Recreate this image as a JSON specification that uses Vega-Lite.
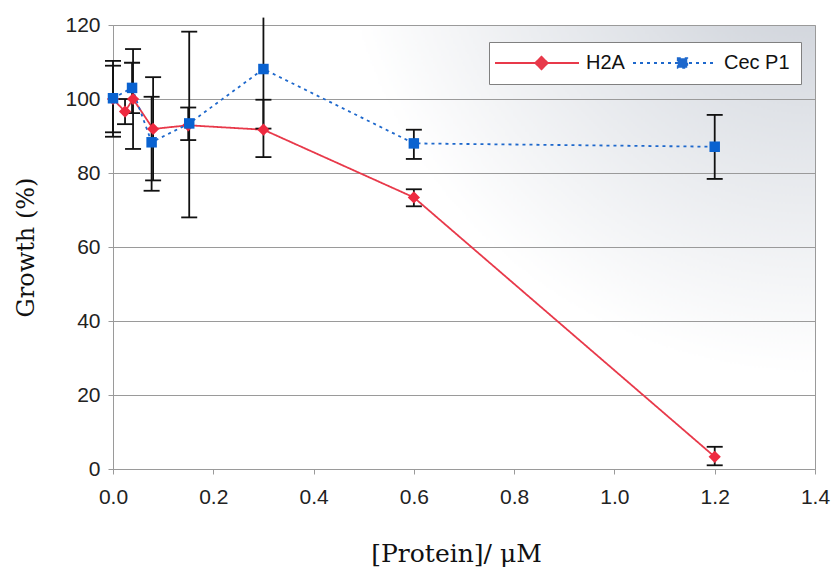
{
  "$schema": "https://vega.github.io/schema/vega-lite/v6.json",
  "width": 702,
  "height": 444,
  "autosize": {"type": "none"},
  "padding": {"left": 113, "top": 25, "right": 20, "bottom": 105},
  "background": "white",
  "config": {
    "view": {
      "stroke": "#9a9a9a",
      "strokeWidth": 1,
      "fill": {
        "gradient": "radial",
        "x1": 1, "y1": 0, "r1": 0,
        "x2": 1, "y2": 0, "r2": 0.68,
        "stops": [
          {"offset": 0, "color": "#c0c5ce"},
          {"offset": 0.45, "color": "#dfe2e7"},
          {"offset": 1, "color": "#ffffff"}
        ]
      }
    },
    "axis": {
      "labelFont": "Liberation Sans",
      "labelFontSize": 21,
      "labelColor": "#222222",
      "labelFlush": false,
      "titleFont": "DejaVu Serif",
      "titleFontWeight": "normal",
      "titleColor": "#111111",
      "domainColor": "#9a9a9a",
      "tickColor": "#9a9a9a",
      "tickSize": 5
    }
  },
  "data": {
    "values": [
      {"series": "H2A", "conc": 0, "growth": 100, "lo": 91, "hi": 109},
      {"series": "H2A", "conc": 0.024, "growth": 96.6, "lo": 93.2, "hi": 100},
      {"series": "H2A", "conc": 0.04, "growth": 100, "lo": 86.5, "hi": 113.5},
      {"series": "H2A", "conc": 0.08, "growth": 91.9, "lo": 78, "hi": 105.9},
      {"series": "H2A", "conc": 0.15, "growth": 92.9, "lo": 88.9, "hi": 97.7},
      {"series": "H2A", "conc": 0.3, "growth": 91.7, "lo": 84.3, "hi": 99.8},
      {"series": "H2A", "conc": 0.6, "growth": 73.4, "lo": 71, "hi": 75.6},
      {"series": "H2A", "conc": 1.2, "growth": 3.3, "lo": 1, "hi": 6},
      {"series": "Cec P1", "conc": 0, "growth": 100.2, "lo": 89.8, "hi": 110.3},
      {"series": "Cec P1", "conc": 0.038, "growth": 103, "lo": 96.2, "hi": 109.8},
      {"series": "Cec P1", "conc": 0.077, "growth": 88.3, "lo": 75.2, "hi": 100.6},
      {"series": "Cec P1", "conc": 0.152, "growth": 93.4, "lo": 68, "hi": 118.2},
      {"series": "Cec P1", "conc": 0.3, "growth": 108.1, "lo": 92, "hi": 122},
      {"series": "Cec P1", "conc": 0.6, "growth": 88, "lo": 83.8, "hi": 91.7},
      {"series": "Cec P1", "conc": 1.2, "growth": 87.1, "lo": 78.4, "hi": 95.7}
    ]
  },
  "encoding": {
    "x": {
      "field": "conc",
      "type": "quantitative",
      "scale": {"domain": [0, 1.4], "nice": false, "zero": false, "padding": 0},
      "axis": {
        "values": [0, 0.2, 0.4, 0.6, 0.8, 1.0, 1.2, 1.4],
        "format": ".1f",
        "grid": false,
        "labelPadding": 12,
        "title": "[Protein]/ μM",
        "titleFontSize": 25,
        "titlePadding": 34,
        "titleX": 343
      }
    }
  },
  "layer": [
    {
      "mark": {"type": "line", "strokeWidth": 1.8},
      "encoding": {
        "y": {
          "field": "growth",
          "type": "quantitative",
          "scale": {"domain": [0, 120], "nice": false, "padding": 0},
          "axis": {
            "values": [0, 20, 40, 60, 80, 100, 120],
            "grid": true,
            "gridColor": "#9a9a9a",
            "gridWidth": 1,
            "labelPadding": 8,
            "title": "Growth (%)",
            "titleFontSize": 24,
            "titlePadding": 26
          }
        },
        "color": {
          "field": "series",
          "type": "nominal",
          "scale": {"domain": ["H2A", "Cec P1"], "range": ["#e8394a", "#1e68cc"]},
          "legend": {
            "title": null,
            "orient": "none",
            "legendX": 376,
            "legendY": 17,
            "direction": "horizontal",
            "fillColor": "#ffffff",
            "strokeColor": "#808080",
            "padding": 11,
            "symbolSize": 100,
            "symbolStrokeWidth": 1.8,
            "symbolOpacity": 1,
            "labelOffset": 66,
            "columnPadding": 4,
            "labelFont": "Liberation Sans",
            "labelFontSize": 20,
            "labelColor": "#111111"
          }
        },
        "strokeDash": {
          "field": "series",
          "type": "nominal",
          "scale": {"domain": ["H2A", "Cec P1"], "range": [[1, 0], [3, 4]]}
        }
      }
    },
    {
      "transform": [{"filter": "false"}],
      "mark": {"type": "point", "filled": true, "opacity": 1},
      "encoding": {
        "y": {"field": "growth", "type": "quantitative"},
        "color": {"field": "series", "type": "nominal"},
        "shape": {
          "field": "series",
          "type": "nominal",
          "scale": {
            "domain": ["H2A", "Cec P1"],
            "range": [
              "M-3,0H13.8M6.3,-1.25L7.55,0L6.3,1.25L5.05,0Z",
              "M-3,0H13.8M5.95,-0.95H7.85V0.95H5.95Z"
            ]
          }
        }
      }
    },
    {
      "mark": {"type": "rule", "color": "#111111", "strokeWidth": 1.8},
      "encoding": {
        "y": {"field": "lo", "type": "quantitative"},
        "y2": {"field": "hi"}
      }
    },
    {
      "mark": {"type": "tick", "orient": "horizontal", "color": "#111111", "size": 16, "thickness": 1.8, "opacity": 1},
      "encoding": {
        "y": {"field": "lo", "type": "quantitative"}
      }
    },
    {
      "transform": [{"filter": "datum.hi <= 120"}],
      "mark": {"type": "tick", "orient": "horizontal", "color": "#111111", "size": 16, "thickness": 1.8, "opacity": 1},
      "encoding": {
        "y": {"field": "hi", "type": "quantitative"}
      }
    },
    {
      "transform": [{"filter": "datum.series === 'H2A'"}],
      "mark": {"type": "point", "shape": "diamond", "size": 150, "filled": true, "opacity": 1, "color": "#ee2a40"},
      "encoding": {
        "y": {"field": "growth", "type": "quantitative"}
      }
    },
    {
      "transform": [{"filter": "datum.series === 'Cec P1'"}],
      "mark": {"type": "point", "shape": "square", "size": 110, "filled": true, "opacity": 1, "color": "#0a62d0"},
      "encoding": {
        "y": {"field": "growth", "type": "quantitative"}
      }
    }
  ]
}
